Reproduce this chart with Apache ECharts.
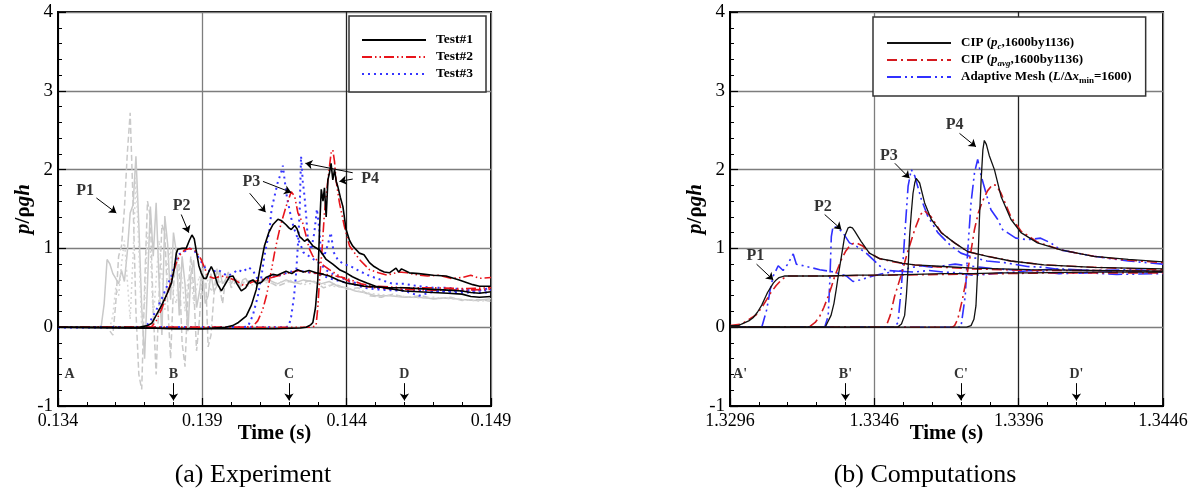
<!DOCTYPE html>
<html>
<head>
<meta charset="utf-8">
<script src="https://cdn.jsdelivr.net/npm/echarts@6/dist/echarts.min.js"></script>
<style>
html,body{margin:0;padding:0;background:#fff}
#chart{width:1198px;height:492px}
</style>
</head>
<body>
<div id="chart"></div>
<script>
// ---------------- Panel (a): measured impact pressure, [time (s), p/rho g h] ----------------
const expTimeOrigin = 0.134;
const expTickLabels = ['0.134', '0.139', '0.144', '0.149'];

// Probe P1, three repeats (drawn in light grey)
const expP1Run1 = [[0.134,0],[0.1354,0],[0.1355,0.02],[0.1356,0.3],[0.1357,0.86],[0.1358,0.8],[0.1359,0.68],[0.136,0.62],[0.1361,0.55],[0.1362,0.72],[0.1363,0.58],[0.1364,0.95],[0.1365,1.45],[0.1366,1.55],[0.1367,2.17],[0.1368,1.3],[0.1369,0.25],[0.137,-0.4],[0.1371,0.55],[0.1372,1.53],[0.1373,0.9],[0.1374,1.58],[0.1375,0.6],[0.1376,-0.1],[0.1377,1.41],[0.1378,1.05],[0.1379,0.35],[0.138,1.2],[0.1381,0.95],[0.1382,0.15],[0.1383,0.9],[0.1384,0.55],[0.1385,-0.05],[0.1386,0.65],[0.1387,0.85],[0.1388,0.25],[0.1389,0.45],[0.139,0.75],[0.1391,0.3],[0.1392,0.4],[0.1393,0.68],[0.1394,0.45],[0.1395,0.52],[0.1396,0.72],[0.1397,0.55],[0.1398,0.6],[0.1399,0.7],[0.14,0.55],[0.1401,0.62],[0.1402,0.58],[0.1403,0.5],[0.1404,0.6],[0.1405,0.62],[0.1406,0.55],[0.1407,0.58],[0.1408,0.6],[0.1409,0.52],[0.141,0.58],[0.1413,0.6],[0.1416,0.55],[0.1419,0.6],[0.1422,0.56],[0.1425,0.6],[0.1428,0.58],[0.1431,0.55],[0.1434,0.58],[0.1437,0.52],[0.144,0.5],[0.1443,0.46],[0.1446,0.44],[0.145,0.4],[0.1455,0.4],[0.146,0.38],[0.1465,0.38],[0.147,0.36],[0.1475,0.37],[0.148,0.35],[0.1485,0.34],[0.149,0.36]];
const expP1Run2 = [[0.134,0],[0.1357,0],[0.1358,-0.05],[0.1359,-0.1],[0.136,0.3],[0.1361,0.9],[0.1362,1.03],[0.1363,1.5],[0.1364,2.2],[0.1365,2.72],[0.1366,1.6],[0.1367,0.2],[0.1368,-0.6],[0.1369,-0.79],[0.137,0.5],[0.1371,1.6],[0.1372,1.4],[0.1373,0.2],[0.1374,-0.6],[0.1375,0.4],[0.1376,1.3],[0.1377,1.2],[0.1378,0.3],[0.1379,-0.4],[0.138,0.5],[0.1381,1.0],[0.1382,0.75],[0.1383,-0.2],[0.1384,-0.5],[0.1385,0.4],[0.1386,0.9],[0.1387,0.5],[0.1388,-0.3],[0.1389,0.1],[0.139,0.7],[0.1391,0.8],[0.1392,-0.25],[0.1393,-0.1],[0.1394,0.4],[0.1395,0.75],[0.1396,0.5],[0.1397,0.3],[0.1398,0.6],[0.1399,0.65],[0.14,0.5],[0.1401,0.55],[0.1402,0.62],[0.1403,0.5],[0.1404,0.55],[0.1405,0.6],[0.1408,0.55],[0.1412,0.6],[0.1416,0.52],[0.142,0.58],[0.1424,0.55],[0.1428,0.6],[0.1432,0.5],[0.1436,0.55],[0.144,0.48],[0.1444,0.5],[0.1448,0.4],[0.1452,0.38],[0.1456,0.42],[0.146,0.38],[0.1466,0.4],[0.147,0.36],[0.1476,0.38],[0.148,0.34],[0.1486,0.35],[0.149,0.33]];
const expP1Run3 = [[0.134,0],[0.1358,0],[0.1359,0.15],[0.136,0.5],[0.1361,0.4],[0.1362,0.8],[0.1363,1.1],[0.1364,0.6],[0.1365,0.1],[0.1366,0.9],[0.1367,1.9],[0.1368,1.0],[0.1369,0.0],[0.137,0.3],[0.1371,1.2],[0.1372,1.0],[0.1373,0.1],[0.1374,0.6],[0.1375,1.1],[0.1376,0.7],[0.1377,0.2],[0.1378,0.8],[0.1379,1.0],[0.138,0.4],[0.1381,0.3],[0.1382,0.8],[0.1383,0.6],[0.1384,0.2],[0.1385,0.6],[0.1386,0.7],[0.1387,0.3],[0.1388,0.5],[0.1389,0.65],[0.139,0.4],[0.1391,0.55],[0.1392,0.6],[0.1393,0.45],[0.1394,0.55],[0.1395,0.6],[0.1398,0.55],[0.1402,0.6],[0.1406,0.52],[0.141,0.58],[0.1415,0.55],[0.142,0.6],[0.1425,0.54],[0.143,0.57],[0.1435,0.52],[0.144,0.5],[0.1445,0.45],[0.145,0.42],[0.1456,0.4],[0.146,0.39],[0.1466,0.37],[0.147,0.38],[0.1476,0.36],[0.148,0.35],[0.1486,0.33],[0.149,0.34]];

// Test#1
const test1P2 = [[0.134,0],[0.1368,0],[0.1371,0.02],[0.13725,0.05],[0.1374,0.15],[0.13758,0.27],[0.13775,0.4],[0.13793,0.56],[0.13803,0.75],[0.1381,0.94],[0.13815,0.99],[0.1383,1.0],[0.13844,1.0],[0.13855,1.1],[0.13864,1.17],[0.13872,1.12],[0.1388,0.95],[0.13888,0.78],[0.13896,0.69],[0.13905,0.62],[0.13914,0.62],[0.13922,0.7],[0.13931,0.77],[0.1394,0.7],[0.13952,0.55],[0.13966,0.46],[0.1398,0.55],[0.13994,0.64],[0.14006,0.65],[0.1402,0.55],[0.14035,0.46],[0.1405,0.5],[0.14063,0.58],[0.14075,0.6],[0.1409,0.55],[0.14105,0.57],[0.1412,0.63],[0.14144,0.67],[0.1416,0.66],[0.1419,0.71],[0.1421,0.68],[0.1423,0.73],[0.1425,0.7],[0.1427,0.72],[0.14294,0.69],[0.1432,0.67],[0.1434,0.65],[0.1437,0.6],[0.14398,0.56],[0.1443,0.54],[0.1446,0.52],[0.145,0.51],[0.1455,0.5],[0.146,0.5],[0.1465,0.49],[0.147,0.48],[0.1475,0.47],[0.148,0.46],[0.1483,0.44],[0.1486,0.43],[0.149,0.45]];
const test1P3 = [[0.134,0],[0.1372,-0.01],[0.138,-0.02],[0.139,-0.02],[0.1398,0],[0.14005,0.02],[0.14025,0.06],[0.14052,0.14],[0.1407,0.28],[0.14087,0.48],[0.141,0.75],[0.14115,1.03],[0.1413,1.2],[0.14144,1.3],[0.14162,1.37],[0.14175,1.35],[0.1419,1.3],[0.142,1.26],[0.14208,1.24],[0.1422,1.29],[0.14228,1.25],[0.14237,1.15],[0.14246,1.12],[0.14254,1.09],[0.14265,1.12],[0.14283,1.03],[0.14306,0.98],[0.14318,0.92],[0.14329,0.86],[0.14352,0.8],[0.14375,0.73],[0.14398,0.69],[0.1442,0.64],[0.14444,0.6],[0.1447,0.56],[0.145,0.52],[0.1455,0.49],[0.146,0.46],[0.1465,0.45],[0.147,0.44],[0.1475,0.43],[0.148,0.42],[0.1483,0.39],[0.1486,0.38],[0.149,0.39]];
const test1P4 = [[0.134,0],[0.139,-0.02],[0.1415,-0.02],[0.1424,-0.01],[0.1426,0],[0.14275,0.03],[0.14283,0.06],[0.14292,0.25],[0.143,0.6],[0.14306,1.24],[0.14312,1.75],[0.14318,1.6],[0.14323,1.77],[0.14329,1.4],[0.14335,1.87],[0.1434,1.95],[0.14346,2.08],[0.14352,1.87],[0.14358,2.0],[0.14364,1.85],[0.14369,1.79],[0.14378,1.65],[0.14387,1.53],[0.14398,1.24],[0.1441,1.1],[0.14421,1.03],[0.14444,0.94],[0.1446,0.92],[0.14479,0.82],[0.14495,0.77],[0.14513,0.73],[0.1453,0.7],[0.14548,0.69],[0.1456,0.72],[0.14571,0.75],[0.1458,0.7],[0.1459,0.74],[0.14617,0.69],[0.1465,0.68],[0.147,0.66],[0.14744,0.65],[0.1479,0.6],[0.14837,0.54],[0.1486,0.52],[0.149,0.52]];

// Test#2
const test2P2 = [[0.134,0],[0.13723,0],[0.1374,0.08],[0.13758,0.22],[0.13772,0.36],[0.13787,0.52],[0.138,0.7],[0.1381,0.82],[0.13825,0.93],[0.13839,0.98],[0.13856,1.0],[0.13873,0.98],[0.13885,0.92],[0.13896,0.86],[0.13908,0.75],[0.13919,0.65],[0.1394,0.62],[0.13966,0.65],[0.1399,0.63],[0.14012,0.6],[0.1403,0.56],[0.14046,0.52],[0.1407,0.57],[0.141,0.6],[0.1413,0.62],[0.1416,0.65],[0.1419,0.68],[0.1423,0.72],[0.1426,0.7],[0.1431,0.68],[0.1436,0.65],[0.144,0.62],[0.1445,0.55],[0.145,0.52],[0.146,0.5],[0.147,0.5],[0.148,0.49],[0.149,0.5]];
const test2P3 = [[0.134,0],[0.1405,0],[0.14075,0.01],[0.14092,0.08],[0.14109,0.22],[0.14122,0.4],[0.14133,0.6],[0.1415,0.94],[0.14162,1.15],[0.14173,1.32],[0.1419,1.53],[0.14208,1.72],[0.1422,1.66],[0.14231,1.45],[0.14248,1.32],[0.1426,1.15],[0.1427,1.0],[0.14283,0.9],[0.14306,0.82],[0.1434,0.73],[0.14375,0.65],[0.1442,0.56],[0.1446,0.52],[0.145,0.5],[0.146,0.48],[0.147,0.47],[0.148,0.47],[0.149,0.48]];
const test2P4 = [[0.134,0],[0.1428,0],[0.14294,0.02],[0.143,0.25],[0.14306,0.6],[0.14315,1.0],[0.14323,1.45],[0.14335,1.87],[0.14346,2.21],[0.14352,2.25],[0.14358,2.1],[0.14363,1.87],[0.14375,1.58],[0.14392,1.28],[0.1441,1.03],[0.14444,0.86],[0.14479,0.73],[0.1451,0.69],[0.1454,0.66],[0.1458,0.7],[0.1461,0.69],[0.1465,0.66],[0.1468,0.65],[0.1472,0.66],[0.1476,0.62],[0.148,0.63],[0.1483,0.66],[0.1486,0.62],[0.149,0.63]];

// Test#3
const test3P2 = [[0.134,0],[0.137,0],[0.13717,0.06],[0.13738,0.2],[0.13758,0.35],[0.13775,0.5],[0.13793,0.65],[0.13805,0.8],[0.13816,0.92],[0.13833,0.95],[0.13856,1.0],[0.13873,0.97],[0.13891,0.86],[0.13914,0.73],[0.13935,0.7],[0.13954,0.73],[0.1397,0.69],[0.13988,0.65],[0.14005,0.68],[0.14023,0.73],[0.1404,0.7],[0.1406,0.76],[0.14075,0.72],[0.1409,0.62],[0.1411,0.6],[0.1414,0.64],[0.1417,0.66],[0.142,0.7],[0.1423,0.72],[0.1426,0.7],[0.143,0.68],[0.1434,0.62],[0.1438,0.58],[0.1442,0.55],[0.1446,0.5],[0.145,0.48],[0.146,0.46],[0.1465,0.4],[0.147,0.45],[0.148,0.46],[0.149,0.47]];
const test3P3 = [[0.134,0],[0.1404,0],[0.14058,0.01],[0.14075,0.15],[0.14092,0.39],[0.14105,0.65],[0.14115,0.9],[0.14133,1.24],[0.1414,1.5],[0.1415,1.66],[0.14162,1.85],[0.14172,1.95],[0.14179,2.05],[0.14185,1.87],[0.14193,1.65],[0.14202,1.49],[0.1421,1.35],[0.14219,1.24],[0.14231,1.12],[0.1424,1.05],[0.1425,0.95],[0.1427,0.9],[0.1429,0.85],[0.1431,0.8],[0.1433,0.72],[0.1436,0.66],[0.144,0.6],[0.1444,0.55],[0.145,0.5],[0.146,0.47],[0.147,0.46],[0.148,0.44],[0.149,0.44]];
const test3P4 = [[0.134,0],[0.1419,0],[0.142,0.02],[0.14208,0.14],[0.14218,0.4],[0.14225,0.69],[0.14232,1.1],[0.14237,1.45],[0.14242,2.17],[0.14248,1.85],[0.14254,1.66],[0.1426,1.4],[0.14265,1.15],[0.14277,0.98],[0.14288,1.2],[0.14297,1.5],[0.14305,1.25],[0.1431,1.0],[0.14322,0.9],[0.14335,1.05],[0.14345,1.2],[0.14355,0.95],[0.1437,0.85],[0.1439,0.8],[0.1441,0.78],[0.1444,0.72],[0.1448,0.65],[0.1452,0.6],[0.1456,0.55],[0.146,0.55],[0.1465,0.52],[0.147,0.5],[0.1475,0.5],[0.148,0.48],[0.1485,0.46],[0.149,0.5]];

// Probe labels and leader arrows: [text, t, value] / [t1, v1, t2, v2]
const expProbeLabels = [['P1',0.13494,1.73],['P2',0.13828,1.54],['P3',0.1407,1.85],['P4',0.14481,1.88]];
const expProbeArrows = [[0.13533,1.64,0.13602,1.45],[0.13827,1.43,0.13853,1.2],[0.1411,1.85,0.14208,1.71],[0.14064,1.7,0.14119,1.46],[0.14421,1.96,0.14257,2.08],[0.14421,1.88,0.14375,1.85]];
const expStations = [['A',0.1344,-0.6],['B',0.138,-0.6],['C',0.142,-0.6],['D',0.146,-0.6]];
const expStationArrows = [[0.138,-0.71,0.138,-0.93],[0.142,-0.71,0.142,-0.93],[0.146,-0.71,0.146,-0.93]];

// ---------------- Panel (b): computed pressure histories ----------------
const numTimeOrigin = 1.3296;
const numTickLabels = ['1.3296', '1.3346', '1.3396', '1.3446'];

// CIP, p_c
const cipCP1 = [[1.3296,0.02],[1.3299,0.02],[1.33,0.04],[1.33025,0.08],[1.3304,0.12],[1.33055,0.19],[1.3307,0.28],[1.3308,0.36],[1.3309,0.44],[1.331,0.5],[1.3311,0.56],[1.3312,0.6],[1.3313,0.63],[1.3315,0.65],[1.332,0.65],[1.333,0.65],[1.334,0.66],[1.335,0.66],[1.336,0.67],[1.337,0.68],[1.338,0.68],[1.339,0.69],[1.34,0.69],[1.342,0.7],[1.3446,0.7]];
const cipCP2 = [[1.3296,0],[1.3329,0],[1.33294,0.03],[1.3331,0.15],[1.3332,0.3],[1.33328,0.48],[1.33337,0.7],[1.33346,0.9],[1.33357,1.15],[1.33369,1.26],[1.33376,1.27],[1.33384,1.26],[1.33392,1.22],[1.33414,1.09],[1.33443,0.94],[1.33478,0.87],[1.33524,0.84],[1.33558,0.81],[1.336,0.79],[1.337,0.77],[1.338,0.75],[1.339,0.74],[1.34,0.73],[1.342,0.72],[1.3446,0.71]];
const cipCP3 = [[1.3296,0],[1.3354,0],[1.33554,0.04],[1.33565,0.15],[1.33571,0.4],[1.33577,0.75],[1.33582,1.15],[1.33588,1.45],[1.33594,1.7],[1.336,1.83],[1.33605,1.89],[1.3361,1.89],[1.33617,1.83],[1.33634,1.58],[1.33657,1.37],[1.33692,1.2],[1.33738,1.07],[1.33783,0.96],[1.33852,0.9],[1.33933,0.84],[1.34048,0.79],[1.3422,0.76],[1.3446,0.74]];
const cipCP4 = [[1.3296,0],[1.3378,0],[1.33795,0.02],[1.33805,0.1],[1.33812,0.27],[1.33818,0.73],[1.33824,1.37],[1.3383,1.87],[1.33836,2.25],[1.33841,2.37],[1.33848,2.32],[1.33858,2.18],[1.33876,2.0],[1.33899,1.66],[1.33933,1.37],[1.33968,1.2],[1.34025,1.07],[1.34106,0.98],[1.3422,0.9],[1.3434,0.86],[1.3446,0.83]];

// CIP, p_avg
const cipAvgP1 = [[1.3296,0.02],[1.33,0.04],[1.33018,0.08],[1.33035,0.12],[1.33052,0.16],[1.3307,0.25],[1.33087,0.35],[1.331,0.43],[1.3311,0.48],[1.3312,0.53],[1.33133,0.58],[1.33145,0.62],[1.33156,0.65],[1.332,0.65],[1.333,0.65],[1.335,0.66],[1.337,0.67],[1.339,0.68],[1.341,0.69],[1.3446,0.69]];
const cipAvgP2 = [[1.3296,0],[1.3322,0],[1.33237,0.01],[1.33255,0.06],[1.33271,0.14],[1.33285,0.25],[1.333,0.39],[1.33312,0.52],[1.33323,0.65],[1.33346,0.86],[1.3336,0.96],[1.33374,1.03],[1.33385,1.06],[1.33397,1.07],[1.3342,1.03],[1.33443,0.94],[1.33478,0.87],[1.33524,0.83],[1.336,0.79],[1.337,0.76],[1.338,0.74],[1.339,0.73],[1.34,0.72],[1.342,0.72],[1.3446,0.71]];
const cipAvgP3 = [[1.3296,0],[1.335,0],[1.33505,0.01],[1.33515,0.15],[1.3353,0.39],[1.33552,0.65],[1.33575,0.95],[1.336,1.24],[1.3362,1.43],[1.33633,1.48],[1.33657,1.4],[1.33692,1.2],[1.33738,1.07],[1.33783,0.96],[1.33852,0.9],[1.33933,0.84],[1.34048,0.79],[1.3422,0.76],[1.3446,0.73]];
const cipAvgP4 = [[1.3296,0],[1.3373,0],[1.33738,0.02],[1.33749,0.1],[1.33765,0.35],[1.33778,0.6],[1.33792,0.9],[1.33807,1.24],[1.3382,1.45],[1.33835,1.6],[1.33852,1.73],[1.3387,1.81],[1.33882,1.8],[1.33899,1.7],[1.33933,1.4],[1.33968,1.22],[1.34025,1.08],[1.34106,0.98],[1.3422,0.9],[1.3434,0.85],[1.3446,0.82]];

// Adaptive mesh
const amrP1 = [[1.3296,0],[1.3307,0],[1.33075,0.01],[1.33087,0.22],[1.33099,0.47],[1.3311,0.65],[1.33127,0.78],[1.33144,0.72],[1.3316,0.8],[1.33179,0.93],[1.3319,0.8],[1.33225,0.77],[1.33271,0.73],[1.3332,0.7],[1.33363,0.65],[1.33386,0.58],[1.3341,0.6],[1.33455,0.65],[1.33501,0.69],[1.33547,0.71],[1.336,0.7],[1.3365,0.72],[1.337,0.7],[1.3375,0.69],[1.338,0.66],[1.3385,0.67],[1.339,0.69],[1.3395,0.7],[1.34,0.72],[1.3405,0.7],[1.341,0.68],[1.342,0.69],[1.343,0.67],[1.3446,0.68]];
const amrP2 = [[1.3296,0],[1.33288,0],[1.333,0.14],[1.33306,0.6],[1.33311,1.15],[1.33317,1.28],[1.33334,1.26],[1.33351,1.2],[1.33374,1.07],[1.33397,1.03],[1.33432,0.94],[1.33455,0.86],[1.33478,0.78],[1.33501,0.72],[1.33547,0.71],[1.3358,0.75],[1.3362,0.78],[1.3366,0.76],[1.337,0.78],[1.3374,0.8],[1.3378,0.78],[1.3383,0.76],[1.3388,0.74],[1.3393,0.73],[1.34,0.72],[1.341,0.74],[1.342,0.72],[1.343,0.71],[1.3446,0.7]];
const amrP3 = [[1.3296,0],[1.3353,0],[1.33542,0.06],[1.33554,0.52],[1.33565,1.15],[1.33577,1.79],[1.33588,2.0],[1.336,1.92],[1.33623,1.62],[1.33645,1.41],[1.3368,1.2],[1.33726,1.03],[1.3376,0.94],[1.33807,0.88],[1.3385,0.84],[1.3391,0.82],[1.3399,0.77],[1.3405,0.76],[1.34106,0.73],[1.3422,0.72],[1.3435,0.73],[1.3446,0.71]];
const amrP4 = [[1.3296,0],[1.3376,0],[1.33766,0.01],[1.33775,0.4],[1.33783,0.94],[1.33795,1.58],[1.33807,1.96],[1.33818,2.13],[1.3383,1.92],[1.33847,1.7],[1.33864,1.49],[1.33887,1.37],[1.33904,1.24],[1.33921,1.2],[1.3395,1.13],[1.33991,1.11],[1.34036,1.13],[1.34071,1.07],[1.34106,0.98],[1.34163,0.94],[1.3422,0.9],[1.3434,0.84],[1.3446,0.8]];

const numProbeLabels = [['P1',1.33048,0.9],['P2',1.33282,1.53],['P3',1.3351,2.18],['P4',1.33738,2.57]];
const numProbeArrows = [[1.33052,0.8,1.3311,0.6],[1.33288,1.43,1.33346,1.24],[1.33531,2.08,1.33582,1.89],[1.33755,2.46,1.33812,2.29]];
const numStations = [["A'",1.32995,-0.6],["B'",1.3336,-0.6],["C'",1.3376,-0.6],["D'",1.3416,-0.6]];
const numStationArrows = [[1.3336,-0.71,1.3336,-0.93],[1.3376,-0.71,1.3376,-0.93],[1.3416,-0.71,1.3416,-0.93]];

// ---------------- chart construction ----------------
const SERIF = '"Liberation Serif","Times New Roman",serif';
const toAxis = (t, t0) => (t - t0) * 1000;   // ms after panel origin

function curve(panel, name, pts, t0, style, z) {
  return {
    type: 'line', name, xAxisIndex: panel, yAxisIndex: panel,
    data: pts.map(p => [toAxis(p[0], t0), p[1]]),
    symbol: 'none', showSymbol: false, silent: true, z: z,
    lineStyle: style, emphasis: { disabled: true }
  };
}

function annotations(panel, labels, arrows, t0, fontSize) {
  return {
    type: 'scatter', xAxisIndex: panel, yAxisIndex: panel, silent: true, z: 20,
    symbolSize: 1, itemStyle: { color: 'rgba(0,0,0,0)' },
    data: labels.map(l => ({ name: l[0], value: [toAxis(l[1], t0), l[2]] })),
    label: { show: true, position: 'inside', formatter: '{b}', fontFamily: SERIF,
             fontWeight: 'bold', fontSize: fontSize, color: '#000' },
    markLine: {
      silent: true, animation: false, symbol: ['none', 'arrow'], symbolSize: 7,
      label: { show: false }, emphasis: { disabled: true },
      lineStyle: { color: '#000', width: 1, type: 'solid' },
      data: arrows.map(a => [{ coord: [toAxis(a[0], t0), a[1]] }, { coord: [toAxis(a[2], t0), a[3]] }])
    }
  };
}

function xAxis(panel, labels) {
  return {
    type: 'value', gridIndex: panel, min: 0, max: 15, interval: 5,
    axisLine: { show: true, onZero: false, lineStyle: { color: '#000', width: 2 } },
    axisTick: { show: true, inside: true, length: 8, lineStyle: { color: '#000', width: 1.2 } },
    minorTick: { show: true, splitNumber: 5, length: 4, lineStyle: { color: '#000', width: 1 } },
    splitLine: { show: true, lineStyle: { color: ['#7d7d7d', '#7d7d7d', '#222', '#7d7d7d'], width: 1.3 } },
    axisLabel: { fontFamily: SERIF, fontSize: 18, color: '#000', margin: 6, showMinLabel: true,
                 showMaxLabel: true, hideOverlap: false, formatter: v => labels[Math.round(v / 5)] },
    name: 'Time (s)', nameLocation: 'middle', nameGap: 17, nameMoveOverlap: false,
    nameTextStyle: { fontFamily: SERIF, fontWeight: 'bold', fontSize: 21, color: '#000' }
  };
}

function yAxis(panel) {
  return {
    type: 'value', gridIndex: panel, min: -1, max: 4, interval: 1,
    axisLine: { show: true, onZero: false, lineStyle: { color: '#000', width: 2 } },
    axisTick: { show: true, inside: true, length: 8, lineStyle: { color: '#000', width: 1.2 } },
    minorTick: { show: true, splitNumber: 5, length: 4, lineStyle: { color: '#000', width: 1 } },
    splitLine: { show: true, lineStyle: { color: '#7d7d7d', width: 1.3 } },
    axisLabel: { fontFamily: SERIF, fontSize: 19, color: '#000', margin: 5, showMinLabel: true,
                 showMaxLabel: true, hideOverlap: false },
    name: '{i|p}{n|/ρ}{i|gh}', nameLocation: 'middle', nameGap: 24, nameMoveOverlap: false,
    nameTextStyle: {
      fontFamily: SERIF, fontSize: 21, fontWeight: 'bold', color: '#000',
      rich: {
        i: { fontFamily: SERIF, fontSize: 21, fontWeight: 'bold', fontStyle: 'italic', color: '#000' },
        n: { fontFamily: SERIF, fontSize: 21, fontWeight: 'bold', color: '#000' }
      }
    }
  };
}

const greyCol = '#c9c9c9';
const expBlack = { color: '#000', width: 1.6, type: 'solid' };
const expRed = { color: '#e8141b', width: 1.6, type: [10, 3, 1.5, 3, 1.5, 3] };
const expBlue = { color: '#3535ff', width: 2, type: [2, 4] };
const numBlack = { color: '#111', width: 1.3, type: 'solid' };
const numRed = { color: '#d41a1f', width: 1.6, type: [10, 4, 2, 4] };
const numBlue = { color: '#3030ff', width: 1.6, type: [14, 4, 2, 4, 2, 4] };

const T = expTimeOrigin, N = numTimeOrigin;
const series = [
  curve(0, 'P1 run 1', expP1Run1, T, { color: greyCol, width: 1.5, type: 'solid' }, 2),
  curve(0, 'P1 run 2', expP1Run2, T, { color: greyCol, width: 1.5, type: [6, 3] }, 2),
  curve(0, 'P1 run 3', expP1Run3, T, { color: '#d6d6d6', width: 1.5, type: [2, 3] }, 2),
  curve(0, 'Test#3', test3P2, T, expBlue, 3),
  curve(0, 'Test#3', test3P3, T, expBlue, 3),
  curve(0, 'Test#3', test3P4, T, expBlue, 3),
  curve(0, 'Test#2', test2P2, T, expRed, 4),
  curve(0, 'Test#2', test2P3, T, expRed, 4),
  curve(0, 'Test#2', test2P4, T, expRed, 4),
  curve(0, 'Test#1', test1P2, T, expBlack, 5),
  curve(0, 'Test#1', test1P3, T, expBlack, 5),
  curve(0, 'Test#1', test1P4, T, expBlack, 5),
  annotations(0, expProbeLabels, expProbeArrows, T, 16),
  annotations(0, expStations, expStationArrows, T, 14),

  curve(1, 'CIP pc', cipCP1, N, numBlack, 5),
  curve(1, 'CIP pc', cipCP2, N, numBlack, 5),
  curve(1, 'CIP pc', cipCP3, N, numBlack, 5),
  curve(1, 'CIP pc', cipCP4, N, numBlack, 5),
  curve(1, 'CIP pavg', cipAvgP1, N, numRed, 4),
  curve(1, 'CIP pavg', cipAvgP2, N, numRed, 4),
  curve(1, 'CIP pavg', cipAvgP3, N, numRed, 4),
  curve(1, 'CIP pavg', cipAvgP4, N, numRed, 4),
  curve(1, 'Adaptive Mesh', amrP1, N, numBlue, 3),
  curve(1, 'Adaptive Mesh', amrP2, N, numBlue, 3),
  curve(1, 'Adaptive Mesh', amrP3, N, numBlue, 3),
  curve(1, 'Adaptive Mesh', amrP4, N, numBlue, 3),
  annotations(1, numProbeLabels, numProbeArrows, N, 16),
  annotations(1, numStations, numStationArrows, N, 14)
];

const numLegendText = {
  'CIP pc': '{b|CIP (}{i|p}{s|c}{b|,1600by1136)}',
  'CIP pavg': '{b|CIP (}{i|p}{s|avg}{b|,1600by1136)}',
  'Adaptive Mesh': '{b|Adaptive Mesh (}{i|L}{b|/Δ}{i|x}{m|min}{b|=1600)}'
};

const legendBase = {
  orient: 'vertical', itemWidth: 64, itemHeight: 14, itemGap: 1,
  backgroundColor: '#fff', borderColor: '#333', borderWidth: 1.5, borderRadius: 0,
  selectedMode: false, itemStyle: { color: 'rgba(0,0,0,0)', borderWidth: 0, borderColor: 'rgba(0,0,0,0)' },
  lineStyle: { width: 2 }
};

const option = {
  animation: false,
  backgroundColor: '#fff',
  grid: [
    { left: 58, top: 12, width: 433, height: 394, show: true, borderColor: '#000', borderWidth: 2,
      containLabel: false, outerBoundsMode: 'none' },
    { left: 730, top: 12, width: 433, height: 394, show: true, borderColor: '#000', borderWidth: 2,
      containLabel: false, outerBoundsMode: 'none' }
  ],
  xAxis: [xAxis(0, expTickLabels), xAxis(1, numTickLabels)],
  yAxis: [yAxis(0), yAxis(1)],
  legend: [
    Object.assign({}, legendBase, {
      data: ['Test#1', 'Test#2', 'Test#3'], left: 349, top: 16, padding: [16, 13, 10, 12],
      textStyle: { fontFamily: SERIF, fontWeight: 'bold', fontSize: 13.5, color: '#000',
                   lineHeight: 16, padding: [0, 0, 0, 5] }
    }),
    Object.assign({}, legendBase, {
      data: ['CIP pc', 'CIP pavg', 'Adaptive Mesh'], left: 873, top: 17, padding: [18, 14, 11, 13],
      formatter: n => numLegendText[n],
      textStyle: {
        fontFamily: SERIF, fontWeight: 'bold', fontSize: 13, color: '#000', lineHeight: 16,
        padding: [0, 0, 0, 5],
        rich: {
          b: { fontFamily: SERIF, fontWeight: 'bold', fontSize: 13, lineHeight: 16, color: '#000' },
          i: { fontFamily: SERIF, fontWeight: 'bold', fontStyle: 'italic', fontSize: 13, lineHeight: 16, color: '#000' },
          s: { fontFamily: SERIF, fontWeight: 'bold', fontStyle: 'italic', fontSize: 9, lineHeight: 10,
               verticalAlign: 'bottom', color: '#000' },
          m: { fontFamily: SERIF, fontWeight: 'bold', fontSize: 9, lineHeight: 10,
               verticalAlign: 'bottom', color: '#000' }
        }
      }
    })
  ],
  graphic: [
    { type: 'text', x: 253, y: 475, silent: true,
      style: { text: '(a) Experiment', font: '26px ' + SERIF, fill: '#000', align: 'center', verticalAlign: 'middle' } },
    { type: 'text', x: 925, y: 475, silent: true,
      style: { text: '(b) Computations', font: '26px ' + SERIF, fill: '#000', align: 'center', verticalAlign: 'middle' } }
  ],
  series: series
};

const chart = echarts.init(document.getElementById('chart'), null, { renderer: 'canvas' });
chart.setOption(option);
</script>
</body>
</html>
